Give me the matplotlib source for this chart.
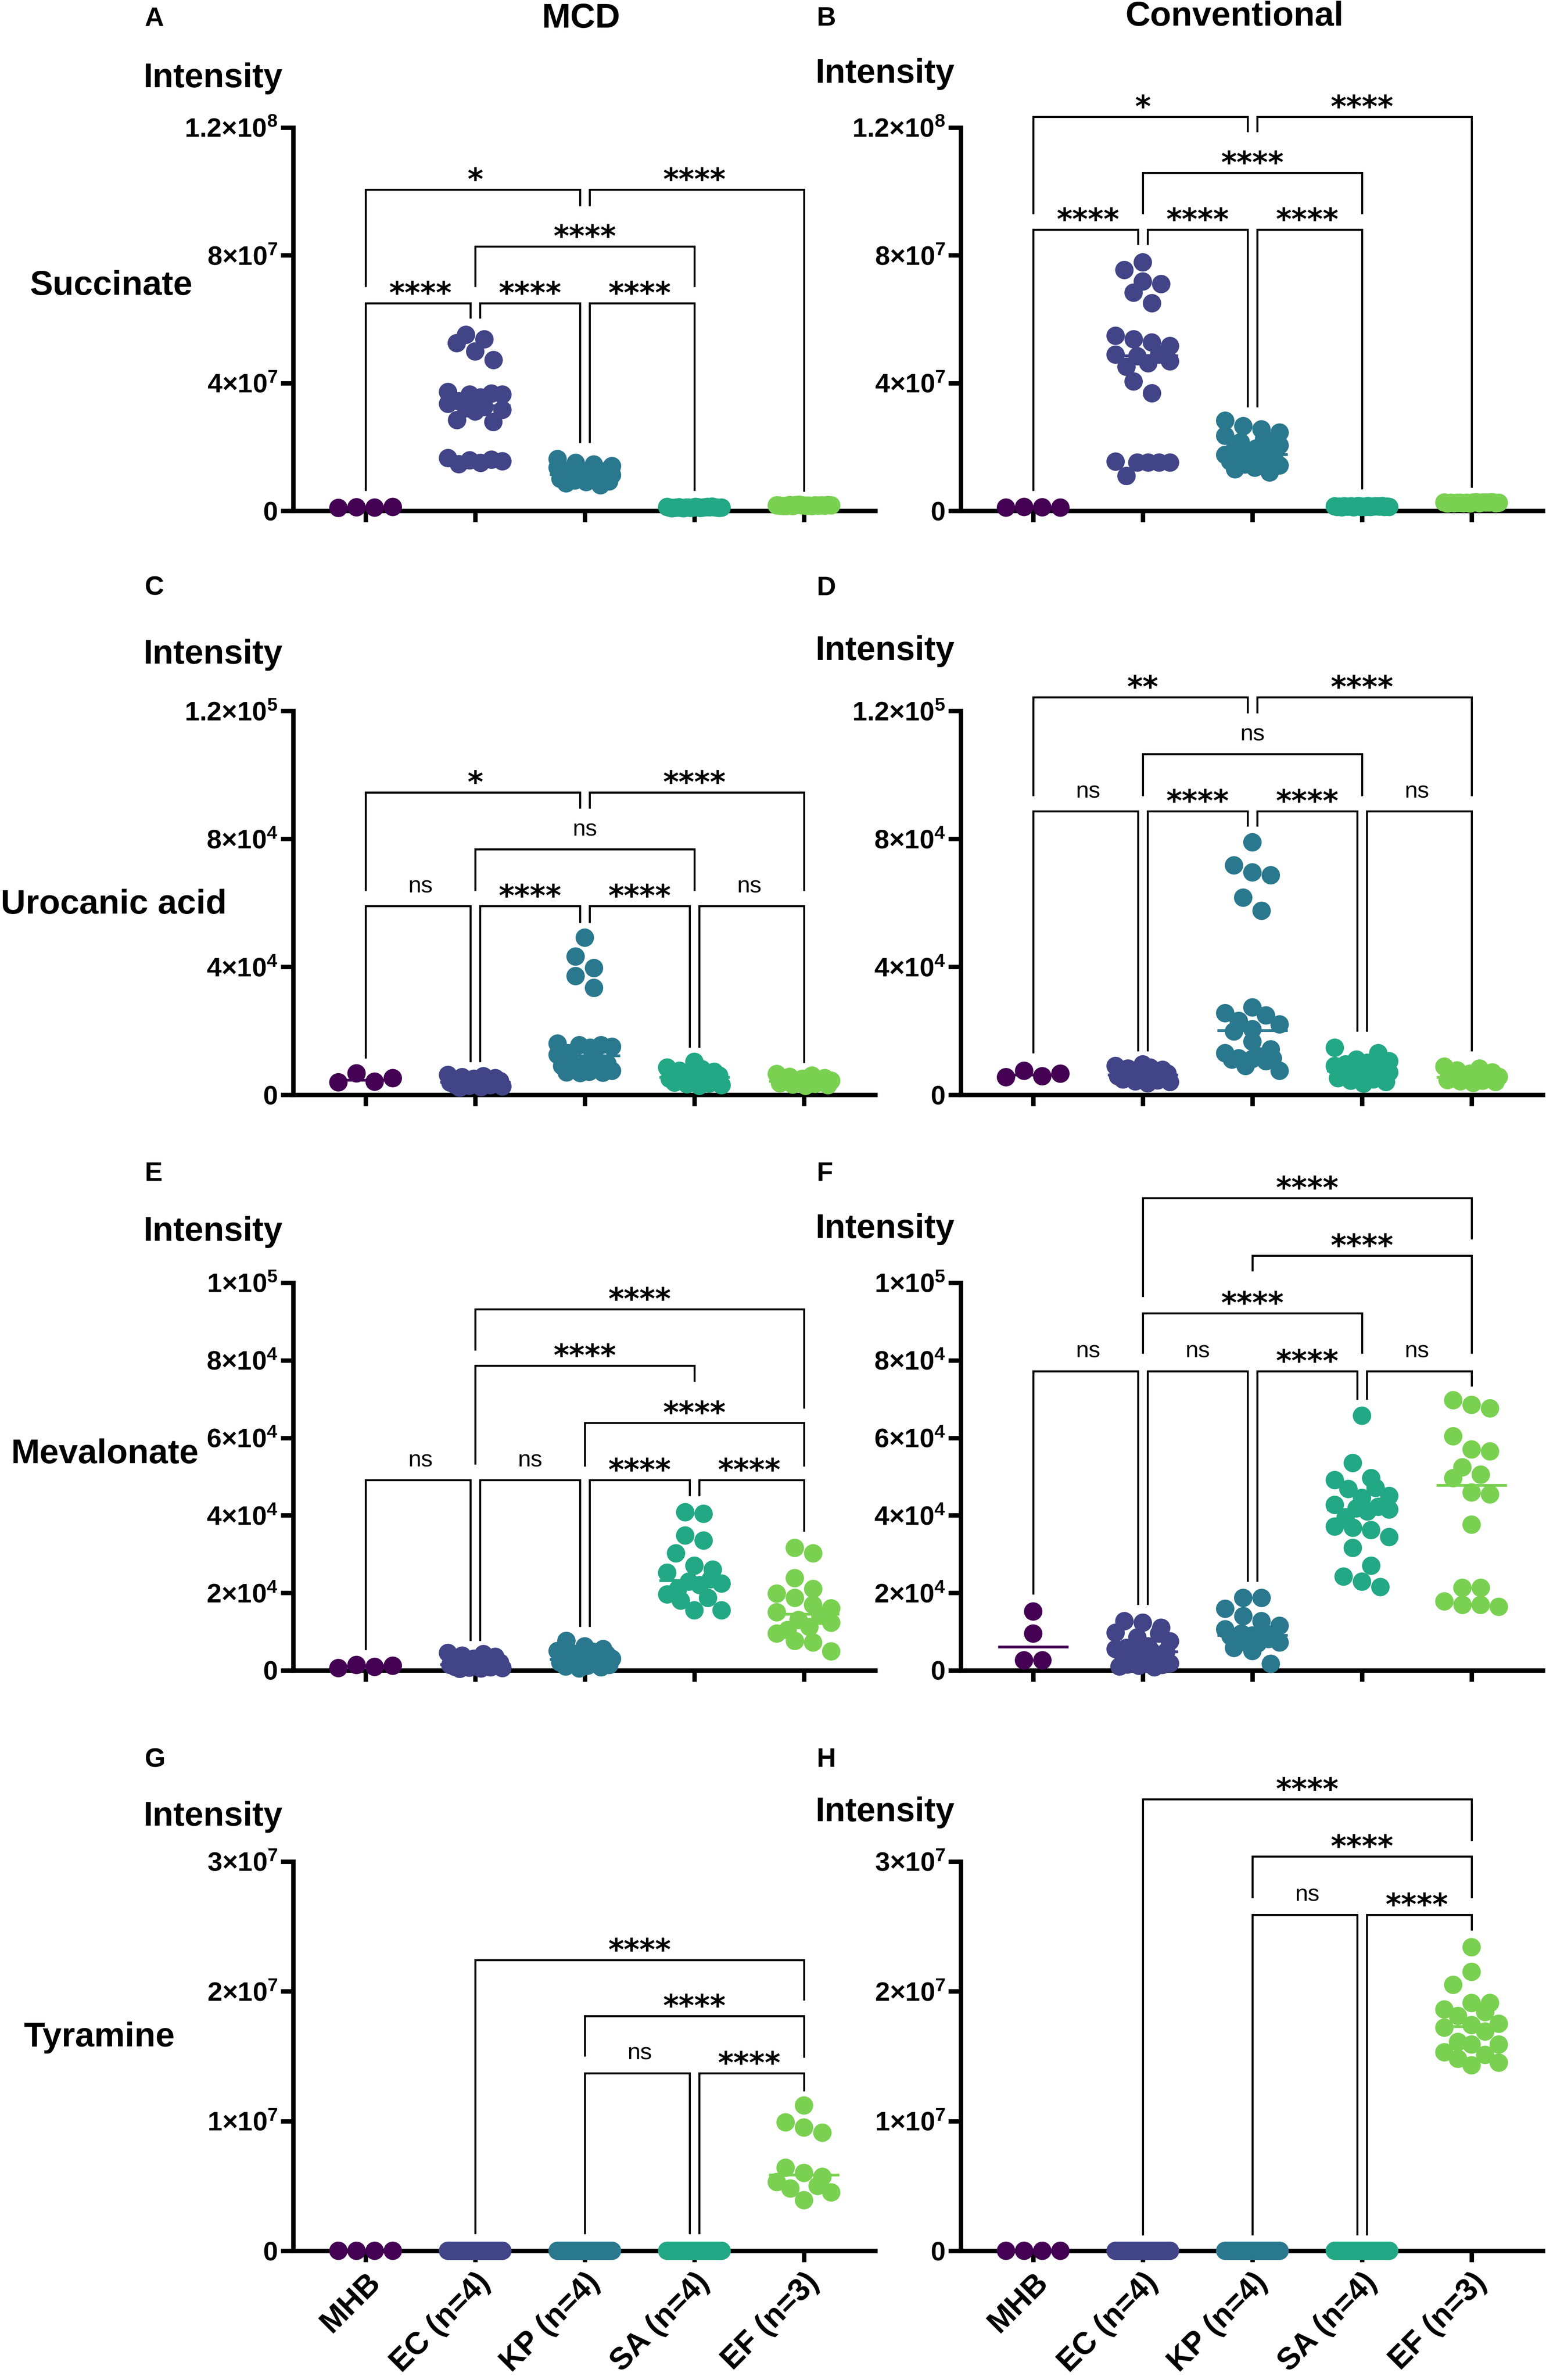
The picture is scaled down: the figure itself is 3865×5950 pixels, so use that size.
import numpy as np
import matplotlib
matplotlib.use('Agg')
import matplotlib.pyplot as plt

plt.rcParams['font.family'] = ['Liberation Sans', 'DejaVu Sans']
plt.rcParams['mathtext.fontset'] = 'custom'
plt.rcParams['mathtext.rm'] = 'Liberation Sans:bold'
plt.rcParams['mathtext.bf'] = 'Liberation Sans:bold'
plt.rcParams['mathtext.it'] = 'Liberation Sans:bold'
plt.rcParams['mathtext.default'] = 'rm'

# ---------------- data ----------------
groups = ['MHB', 'EC (n=4)', 'KP (n=4)', 'SA (n=4)', 'EF (n=3)']
colors = ['#440154', '#414487', '#2a788e', '#22a884', '#7ad151']
metabolites = ['Succinate', 'Urocanic acid', 'Mevalonate', 'Tyramine']
columns = ['MCD', 'Conventional']
letters = ['A', 'B', 'C', 'D', 'E', 'F', 'G', 'H']

# Panel A  (x1e7)
mhb_a = [0.09, 0.11, 0.10, 0.12]
ec_a = [5.51, 5.37, 5.25, 4.99, 4.72, 3.72, 3.67, 3.64, 3.64, 3.55, 3.43, 3.35,
        3.25, 3.21, 3.16, 3.11, 2.84, 2.78, 1.65, 1.60, 1.58, 1.55, 1.50, 1.46]
kp_a = [1.62, 1.50, 1.45, 1.40, 1.35, 1.30, 1.30, 1.25, 1.22, 1.20, 1.15, 1.15,
        1.12, 1.10, 1.05, 1.05, 1.02, 1.00, 0.97, 0.95, 0.92, 0.90, 0.86, 0.80]
sa_a = [0.12, 0.10, 0.09, 0.11, 0.10, 0.08, 0.12, 0.10, 0.09, 0.11, 0.10, 0.13,
        0.09, 0.10, 0.11, 0.08, 0.10, 0.12, 0.09, 0.11, 0.10, 0.10, 0.09, 0.11]
ef_a = [0.17, 0.15, 0.18, 0.16, 0.17, 0.15, 0.16, 0.18, 0.17, 0.16, 0.15, 0.17,
        0.19, 0.16, 0.17, 0.15, 0.18, 0.16]
# Panel B  (x1e7)
mhb_b = [0.10, 0.12, 0.11, 0.10]
ec_b = [7.78, 7.54, 7.18, 7.10, 6.83, 6.50, 5.48, 5.37, 5.27, 5.16, 4.89, 4.89,
        4.84, 4.68, 4.62, 4.51, 4.05, 3.68, 1.54, 1.51, 1.51, 1.51, 1.51, 1.09]
kp_b = [2.82, 2.65, 2.55, 2.45, 2.35, 2.25, 2.15, 2.05, 1.95, 1.85, 1.80, 1.78,
        1.75, 1.70, 1.65, 1.60, 1.58, 1.55, 1.50, 1.45, 1.42, 1.35, 1.30, 1.20]
sa_b = [0.14, 0.12, 0.13, 0.15, 0.12, 0.13, 0.14, 0.11, 0.13, 0.12, 0.14, 0.13,
        0.15, 0.12, 0.13, 0.14, 0.12, 0.13, 0.11, 0.14, 0.13, 0.12, 0.15, 0.13]
ef_b = [0.26, 0.24, 0.25, 0.27, 0.23, 0.25, 0.26, 0.24, 0.25, 0.27, 0.24, 0.26,
        0.25, 0.23, 0.26, 0.25, 0.24, 0.26]
# Panel C  (x1e4)
mhb_c = [0.39, 0.67, 0.41, 0.52]
ec_c = [0.62, 0.58, 0.55, 0.52, 0.50, 0.48, 0.46, 0.45, 0.43, 0.42, 0.41, 0.40,
        0.39, 0.38, 0.37, 0.35, 0.34, 0.33, 0.31, 0.30, 0.28, 0.26, 0.24, 0.22]
kp_c = [4.91, 4.32, 3.96, 3.71, 3.34, 1.60, 1.55, 1.55, 1.50, 1.47, 1.30, 1.25,
        1.20, 1.00, 0.97, 0.95, 0.90, 0.85, 0.80, 0.75, 0.72, 0.70, 0.69, 0.68]
sa_c = [1.03, 0.85, 0.80, 0.75, 0.72, 0.70, 0.68, 0.65, 0.62, 0.60, 0.58, 0.56,
        0.55, 0.53, 0.50, 0.48, 0.45, 0.43, 0.40, 0.38, 0.35, 0.33, 0.30, 0.28]
ef_c = [0.65, 0.60, 0.56, 0.52, 0.50, 0.48, 0.46, 0.45, 0.44, 0.42, 0.41, 0.40,
        0.38, 0.36, 0.34, 0.32, 0.30, 0.28]
# Panel D  (x1e4)
mhb_d = [0.55, 0.75, 0.58, 0.66]
ec_d = [0.95, 0.90, 0.85, 0.82, 0.78, 0.75, 0.72, 0.70, 0.68, 0.66, 0.64, 0.63,
        0.62, 0.60, 0.58, 0.56, 0.54, 0.52, 0.50, 0.48, 0.45, 0.42, 0.40, 0.36]
kp_d = [7.89, 7.17, 6.95, 6.86, 6.16, 5.75, 2.73, 2.55, 2.48, 2.31, 2.20, 2.05,
        1.98, 1.66, 1.42, 1.30, 1.20, 1.14, 1.14, 1.12, 1.10, 1.05, 0.90, 0.75]
sa_d = [1.47, 1.30, 1.10, 1.05, 1.00, 0.95, 0.90, 0.85, 0.82, 0.80, 0.78, 0.76,
        0.74, 0.72, 0.70, 0.67, 0.64, 0.60, 0.56, 0.52, 0.48, 0.44, 0.40, 0.35]
ef_d = [0.88, 0.82, 0.76, 0.70, 0.66, 0.62, 0.60, 0.58, 0.56, 0.54, 0.52, 0.50,
        0.48, 0.46, 0.44, 0.42, 0.40, 0.37]
# Panel E  (x1e4)
mhb_e = [0.06, 0.14, 0.09, 0.12]
ec_e = [0.45, 0.42, 0.38, 0.35, 0.30, 0.27, 0.24, 0.22, 0.20, 0.18, 0.17, 0.16,
        0.15, 0.14, 0.13, 0.12, 0.11, 0.10, 0.09, 0.08, 0.07, 0.06, 0.05, 0.04]
kp_e = [0.76, 0.62, 0.55, 0.50, 0.48, 0.45, 0.42, 0.40, 0.38, 0.35, 0.32, 0.30,
        0.28, 0.26, 0.24, 0.22, 0.20, 0.18, 0.16, 0.14, 0.12, 0.10, 0.08, 0.05]
sa_e = [4.08, 4.04, 3.48, 3.35, 3.02, 2.70, 2.60, 2.52, 2.35, 2.29, 2.24, 2.20,
        2.10, 1.96, 1.87, 1.80, 1.55, 1.55]
ef_e = [3.16, 3.02, 2.38, 2.10, 1.98, 1.87, 1.69, 1.60, 1.50, 1.41, 1.30, 1.23,
        1.12, 1.04, 0.95, 0.76, 0.72, 0.49]
# Panel F  (x1e4)
mhb_f = [1.52, 0.95, 0.26, 0.26]
ec_f = [1.27, 1.23, 1.10, 0.97, 0.95, 0.85, 0.75, 0.62, 0.58, 0.55, 0.52, 0.50,
        0.48, 0.45, 0.35, 0.25, 0.20, 0.18, 0.17, 0.15, 0.14, 0.12, 0.10, 0.08]
kp_f = [1.87, 1.87, 1.59, 1.40, 1.27, 1.15, 1.06, 1.00, 0.95, 0.92, 0.90, 0.88,
        0.81, 0.76, 0.72, 0.70, 0.67, 0.58, 0.50, 0.17]
sa_f = [6.57, 5.35, 4.96, 4.91, 4.71, 4.68, 4.50, 4.45, 4.27, 4.22, 4.18, 4.15,
        4.10, 3.95, 3.71, 3.68, 3.62, 3.44, 3.16, 2.70, 2.42, 2.29, 2.15]
ef_f = [6.97, 6.85, 6.76, 6.04, 5.70, 5.65, 5.24, 5.05, 4.96, 4.59, 4.54, 3.76,
        2.13, 2.13, 1.78, 1.69, 1.69, 1.64]
# Panel G  (x1e7)
mhb_g = [0.0, 0.0, 0.0, 0.0]
ec_g = [0.0, 0.0, 0.0, 0.0, 0.0, 0.0, 0.0, 0.0, 0.0, 0.0, 0.0, 0.0,
        0.0, 0.0, 0.0, 0.0, 0.0, 0.0, 0.0, 0.0, 0.0, 0.0, 0.0, 0.0]
kp_g = [0.0, 0.0, 0.0, 0.0, 0.0, 0.0, 0.0, 0.0, 0.0, 0.0, 0.0, 0.0,
        0.0, 0.0, 0.0, 0.0, 0.0, 0.0, 0.0, 0.0, 0.0, 0.0, 0.0, 0.0]
sa_g = [0.0, 0.0, 0.0, 0.0, 0.0, 0.0, 0.0, 0.0, 0.0, 0.0, 0.0, 0.0,
        0.0, 0.0, 0.0, 0.0, 0.0, 0.0, 0.0, 0.0, 0.0, 0.0, 0.0, 0.0]
ef_g = [1.12, 0.99, 0.95, 0.91, 0.64, 0.60, 0.57, 0.53, 0.50, 0.48, 0.45, 0.39]
# Panel H  (x1e7)
mhb_h = [0.0, 0.0, 0.0, 0.0]
ec_h = [0.0, 0.0, 0.0, 0.0, 0.0, 0.0, 0.0, 0.0, 0.0, 0.0, 0.0, 0.0,
        0.0, 0.0, 0.0, 0.0, 0.0, 0.0, 0.0, 0.0, 0.0, 0.0, 0.0, 0.0]
kp_h = [0.0, 0.0, 0.0, 0.0, 0.0, 0.0, 0.0, 0.0, 0.0, 0.0, 0.0, 0.0,
        0.0, 0.0, 0.0, 0.0, 0.0, 0.0, 0.0, 0.0, 0.0, 0.0, 0.0, 0.0]
sa_h = [0.0, 0.0, 0.0, 0.0, 0.0, 0.0, 0.0, 0.0, 0.0, 0.0, 0.0, 0.0,
        0.0, 0.0, 0.0, 0.0, 0.0, 0.0, 0.0, 0.0, 0.0, 0.0, 0.0, 0.0]
ef_h = [2.34, 2.15, 2.05, 1.91, 1.91, 1.86, 1.84, 1.81, 1.75, 1.74, 1.72, 1.69,
        1.61, 1.59, 1.59, 1.53, 1.51, 1.48, 1.45, 1.43]

# significance brackets: (group i, group j, bracket level, leg-i bottom, leg-j bottom, label)
br_a = [(0, 1, 6.5, 0.63, 6.02, '****'), (1, 2, 6.5, 6.02, 2.13, '****'),
        (2, 3, 6.5, 2.13, 0.63, '****'), (1, 3, 8.28, 7.02, 7.02, '****'),
        (0, 2, 10.06, 7.02, 9.55, '*'), (2, 4, 10.06, 9.55, 0.60, '****')]
br_b = [(0, 1, 8.8, 0.63, 8.33, '****'), (1, 2, 8.8, 8.33, 3.24, '****'),
        (2, 3, 8.8, 3.24, 0.68, '****'), (1, 3, 10.58, 9.3, 9.3, '****'),
        (0, 2, 12.34, 9.3, 11.86, '*'), (2, 4, 12.34, 11.86, 0.73, '****')]
br_c = [(0, 1, 5.9, 1.14, 1.03, 'ns'), (1, 2, 5.9, 1.03, 5.38, '****'),
        (2, 3, 5.9, 5.38, 1.47, '****'), (3, 4, 5.9, 1.47, 1.0, 'ns'),
        (1, 3, 7.67, 6.38, 6.38, 'ns'),
        (0, 2, 9.45, 6.38, 8.95, '*'), (2, 4, 9.45, 8.95, 6.38, '****')]
br_d = [(0, 1, 8.86, 1.3, 1.36, 'ns'), (1, 2, 8.86, 1.36, 8.39, '****'),
        (2, 3, 8.86, 8.39, 1.98, '****'), (3, 4, 8.86, 1.98, 1.36, 'ns'),
        (1, 3, 10.65, 9.34, 9.34, 'ns'),
        (0, 2, 12.43, 9.34, 11.93, '**'), (2, 4, 12.43, 11.93, 9.34, '****')]
br_e = [(0, 1, 4.91, 0.53, 0.76, 'ns'), (1, 2, 4.91, 0.76, 1.13, 'ns'),
        (2, 3, 4.91, 1.13, 4.5, '****'), (3, 4, 4.91, 4.5, 3.58, '****'),
        (2, 4, 6.39, 5.26, 5.26, '****'), (1, 3, 7.86, 5.31, 7.45, '****'),
        (1, 4, 9.32, 8.26, 6.76, '****')]
br_f = [(0, 1, 7.72, 1.96, 1.69, 'ns'), (1, 2, 7.72, 1.69, 2.29, 'ns'),
        (2, 3, 7.72, 2.29, 6.99, '****'), (3, 4, 7.72, 6.99, 7.33, 'ns'),
        (1, 3, 9.22, 8.17, 8.17, '****'), (2, 4, 10.7, 10.3, 8.17, '****'),
        (1, 4, 12.19, 9.64, 11.13, '****')]
br_g = [(2, 3, 1.37, 0.13, 0.13, 'ns'), (3, 4, 1.37, 0.13, 1.23, '****'),
        (2, 4, 1.81, 1.5, 1.49, '****'), (1, 4, 2.24, 0.13, 1.93, '****')]
br_h = [(2, 3, 2.59, 0.12, 0.12, 'ns'), (3, 4, 2.59, 0.12, 2.47, '****'),
        (2, 4, 3.04, 2.72, 2.72, '****'), (1, 4, 3.48, 0.12, 3.16, '****')]

# axis scales / ticks per row
row_scale = [1e7, 1e4, 1e4, 1e7]
row_top = [12, 12, 10, 3]
row_ticks = [[0, 4, 8, 12], [0, 4, 8, 12], [0, 2, 4, 6, 8, 10], [0, 1, 2, 3]]
row_ticklabels = [['0', r'$4{\times}10^{7}$', r'$8{\times}10^{7}$', r'$1.2{\times}10^{8}$'],
                  ['0', r'$4{\times}10^{4}$', r'$8{\times}10^{4}$', r'$1.2{\times}10^{5}$'],
                  ['0', r'$2{\times}10^{4}$', r'$4{\times}10^{4}$', r'$6{\times}10^{4}$',
                   r'$8{\times}10^{4}$', r'$1{\times}10^{5}$'],
                  ['0', r'$1{\times}10^{7}$', r'$2{\times}10^{7}$', r'$3{\times}10^{7}$']]

panel_data = [[mhb_a, ec_a, kp_a, sa_a, ef_a], [mhb_b, ec_b, kp_b, sa_b, ef_b],
              [mhb_c, ec_c, kp_c, sa_c, ef_c], [mhb_d, ec_d, kp_d, sa_d, ef_d],
              [mhb_e, ec_e, kp_e, sa_e, ef_e], [mhb_f, ec_f, kp_f, sa_f, ef_f],
              [mhb_g, ec_g, kp_g, sa_g, ef_g], [mhb_h, ec_h, kp_h, sa_h, ef_h]]
panel_brackets = [br_a, br_b, br_c, br_d, br_e, br_f, br_g, br_h]

# ---------------- layout (pixels) ----------------
W, H = 3865, 5950
DPI = 100
fig = plt.figure(figsize=(W / DPI, H / DPI), dpi=DPI)

CAT = 274.0                  # px per category
XLIM = (-0.66, 4.65)
col_x0 = [914, 2583]         # px of first category
row_px = [(1277, 319), (2737, 1777), (4176, 3207), (5627, 4654)]  # (bottom, top)

DOT = 46.0                   # marker diameter px
HALF = 68.0                  # max half-spread of dot centres px
MED_HALF = 0.32
SHIFT = 12.0 / CAT


def px2pt(p):
    return p * 72.0 / DPI


def swarm(vals_px):
    """GraphPad-like scatter: points grouped in rows (within one dot height),
    spread side by side, compressed to a maximal width."""
    v = np.asarray(vals_px, dtype=float)
    n_all = len(v)
    off = np.zeros(n_all)
    order_all = np.argsort(v, kind='stable')
    rows = []
    cur = []
    start = None
    for k in order_all:
        if start is None or v[k] - start >= DOT:
            if cur:
                rows.append(cur)
            cur = [k]
            start = v[k]
        else:
            cur.append(k)
    if cur:
        rows.append(cur)
    for row in rows:
        idx = np.array(sorted(row))
        n = len(idx)
        if n == 1:
            continue
        step = min(DOT, 2 * HALF / (n - 1))
        slots = (np.arange(n) - (n - 1) / 2.0) * step
        if n <= 4:
            off[idx] = slots
        else:
            perm = np.argsort((np.arange(n) * 0.618034) % 1.0)
            off[idx[perm]] = slots
    return off


def ftext(x, y, s, **kw):
    fig.text(x / W, 1 - y / H, s, **kw)


for p in range(8):
    r, c = divmod(p, 2)
    bottom, top = row_px[r]
    left = col_x0[c] + XLIM[0] * CAT
    width = (XLIM[1] - XLIM[0]) * CAT
    ax = fig.add_axes([left / W, 1 - bottom / H, width / W, (bottom - top) / H])
    ax.set_xlim(*XLIM)
    ymax = row_top[r]
    ax.set_ylim(0, ymax)
    hpx = bottom - top
    for s in ['top', 'right']:
        ax.spines[s].set_visible(False)
    for s in ['left', 'bottom']:
        ax.spines[s].set_linewidth(8)
        ax.spines[s].set_capstyle('projecting')
    ax.set_yticks(row_ticks[r])
    ax.set_yticklabels(row_ticklabels[r], fontsize=48, fontweight='bold')
    ax.tick_params(axis='y', length=22, width=8, pad=6)
    ax.set_xticks(range(5))
    if r == 3:
        ax.set_xticklabels(groups, fontsize=56, fontweight='bold', rotation=45,
                           ha='right', va='top', rotation_mode='anchor')
    else:
        ax.set_xticklabels([])
    ax.tick_params(axis='x', length=20, width=8, pad=10)

    # dots + medians
    for g, vals in enumerate(panel_data[p]):
        vals = np.asarray(vals, dtype=float)
        ypx = vals / ymax * hpx
        xo = swarm(ypx) / CAT
        ax.scatter(g + xo, vals, s=px2pt(DOT) ** 2, color=colors[g],
                   edgecolors='none', zorder=3, clip_on=False)
        med = np.median(vals)
        ax.plot([g - MED_HALF, g + MED_HALF], [med, med], color=colors[g],
                lw=5, solid_capstyle='butt', zorder=4, clip_on=False)

    # brackets
    brs = panel_brackets[p]
    for (i, j, lev, bi, bj, lab) in brs:
        xi, xj = float(i), float(j)
        for (i2, j2, lev2, _, _, _) in brs:
            if abs(lev2 - lev) < 1e-9 and (i2, j2) != (i, j):
                if j2 == i:
                    xi += SHIFT
                if i2 == j:
                    xj -= SHIFT
        ax.plot([xi, xi, xj, xj], [bi, lev, lev, bj], color='black', lw=3.6,
                solid_joinstyle='miter', solid_capstyle='butt', clip_on=False, zorder=5)
        xm = (i + j) / 2.0
        if lab == 'ns':
            ax.annotate('ns', xy=(xm, lev), xytext=(0, px2pt(34)),
                        textcoords='offset points', ha='center', va='baseline',
                        fontsize=42, family=['Liberation Sans Narrow', 'Liberation Sans'],
                        annotation_clip=False)
        else:
            ax.annotate(lab, xy=(xm, lev), xytext=(0, px2pt(0)),
                        textcoords='offset points', ha='center', va='baseline',
                        fontsize=54, fontweight='bold', family='DejaVu Sans',
                        annotation_clip=False)

# ---------------- figure texts ----------------
ftext(1452, 47, columns[0], ha='center', va='center', fontsize=62, fontweight='bold')
ftext(3086, 42, columns[1], ha='center', va='center', fontsize=62, fontweight='bold')

letter_pos = [(361, 48), (2042, 47), (361, 1471), (2042, 1471),
              (361, 2935), (2042, 2935), (361, 4400), (2042, 4400)]
for k, (x, y) in enumerate(letter_pos):
    ftext(x, y, letters[k], ha='left', va='center', fontsize=48, fontweight='bold')

int_pos = [(358, 196), (2038, 185), (358, 1637), (2038, 1628),
           (358, 3080), (2038, 3073), (358, 4542), (2038, 4531)]
for (x, y) in int_pos:
    ftext(x, y, 'Intensity', ha='left', va='center', fontsize=61, fontweight='bold')

row_label_pos = [(75, 715), (2, 2262), (27, 3636), (60, 5094)]
for k, (x, y) in enumerate(row_label_pos):
    ftext(x, y, metabolites[k], ha='left', va='center', fontsize=62, fontweight='bold')

fig.savefig('out.png', dpi=DPI)
